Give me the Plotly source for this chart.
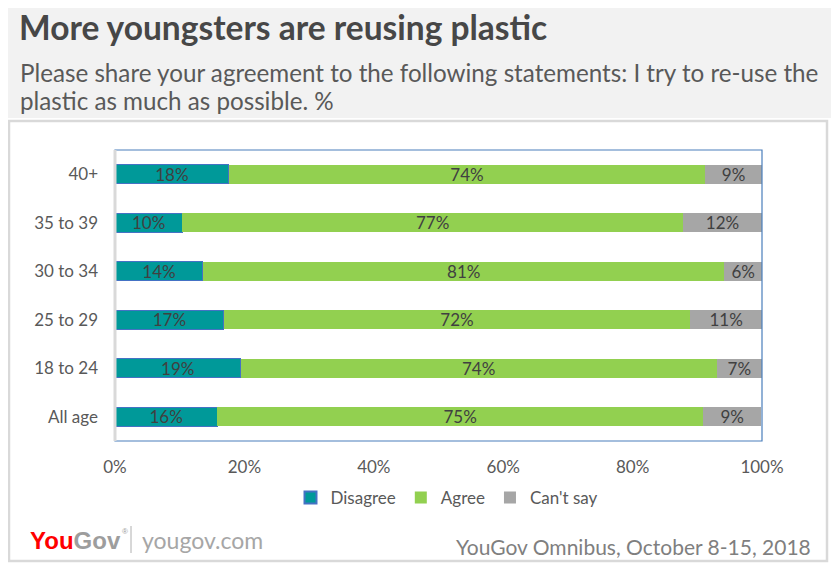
import plotly.graph_objects as go

categories = ["40+", "35 to 39", "30 to 34", "25 to 29", "18 to 24", "All age"]
disagree = [17.6, 10.4, 13.6, 16.8, 19.4, 15.8]
agree = [73.6, 77.4, 80.6, 72.1, 73.6, 75.1]
cant_say = [8.8, 12.2, 5.8, 11.1, 7.0, 9.0]
x_ticks = [0, 20, 40, 60, 80, 100]
x_tick_labels = ["0%", "20%", "40%", "60%", "80%", "100%"]

OFF = 8  # page body margin
W, H = 840, 565
L, R, T, B = 115, 762, 150, 441


def px(x):
    return (x - L) / (R - L)


def py(y):
    return (B - y) / (B - T)


FONT = "Lato"
TXT = "#404040"
SZ = 17

fig = go.Figure()
series = [
    ("Disagree", disagree, "#009999", dict(color="#4472c4", width=1)),
    ("Agree", agree, "#92d050", dict(width=0)),
    ("Can't say", cant_say, "#a6a6a6", dict(width=0)),
]
for name, vals, col, line in series:
    fig.add_trace(go.Bar(
        y=categories, x=vals, name=name, orientation="h",
        marker=dict(color=col, line=line),
        texttemplate="%{x:.0f}%", textposition="inside",
        insidetextanchor="middle", textangle=0, constraintext="none",
        textfont=dict(family=FONT, size=SZ, color=TXT),
        hoverinfo="skip",
    ))

shapes = [
    dict(type="rect", xref="paper", yref="paper", x0=px(OFF), x1=px(831), y0=py(OFF), y1=py(118),
         fillcolor="#f2f2f2", line=dict(width=0), layer="below"),
    dict(type="rect", xref="paper", yref="paper", x0=px(9), x1=px(827), y0=py(121), y1=py(561),
         fillcolor="rgba(0,0,0,0)", line=dict(color="#d9d9d9", width=2.5), layer="below"),
    dict(type="rect", xref="paper", yref="paper", x0=0, x1=1, y0=0, y1=1,
         line=dict(color="#4a7ebb", width=1.2), layer="above"),
    dict(type="line", xref="paper", yref="paper", x0=0, x1=0, y0=0, y1=1,
         line=dict(color="#d9d9d9", width=3), layer="above"),
    dict(type="line", xref="paper", yref="paper", x0=px(131), x1=px(131), y0=py(526), y1=py(553),
         line=dict(color="#b0b0b0", width=1)),
]


def ann(text, x, y, size, color, xanchor="left", family=FONT):
    return dict(text=text, x=px(x), y=py(y), xref="paper", yref="paper",
                xanchor=xanchor, yanchor="middle", showarrow=False,
                font=dict(family=family, size=size, color=color))


annotations = [
    ann("<b>More youngsters are reusing plastic</b>", 17, 27, 33.5, "#474747"),
    ann("Please share your agreement to the following statements: I try to re-use the", 18, 72, 24.2, "#595959"),
    ann("plastic as much as possible. %", 18, 101, 24.2, "#595959"),
    ann("<b><span style='color:#ff0000'>You</span><span style='color:#9d9d9d'>Gov</span></b>",
        28, 540, 24, "#9d9d9d", family="Liberation Sans"),
    ann("®", 120, 531, 8, "#9d9d9d", family="Liberation Sans"),
    ann("yougov.com", 140, 540, 23, "#a6a6a6"),
    ann("YouGov Omnibus, October 8-15, 2018", 813, 546, 21, "#7f7f7f", xanchor="right"),
]

fig.update_layout(
    width=W - OFF, height=H - OFF,
    margin=dict(l=L - OFF, r=W - R, t=T - OFF, b=H - B),
    paper_bgcolor="white", plot_bgcolor="white",
    barmode="stack", bargap=0.61,
    showlegend=True,
    legend=dict(orientation="h", x=px(447), xanchor="center", y=py(498), yanchor="middle",
                font=dict(family=FONT, size=SZ, color="#595959"), traceorder="normal",
                itemwidth=30, itemsizing="constant"),
    xaxis=dict(range=[0, 100], tickvals=x_ticks, ticktext=x_tick_labels, showgrid=False,
               zeroline=False, showline=False, ticks="", ticklabelstandoff=14,
               tickfont=dict(family=FONT, size=SZ, color="#595959"), fixedrange=True),
    yaxis=dict(autorange="reversed", showgrid=False, zeroline=False, showline=False, ticks="",
               ticklabelstandoff=16, tickfont=dict(family=FONT, size=SZ, color="#595959"),
               fixedrange=True),
    shapes=shapes, annotations=annotations,
    font=dict(family=FONT),
)

fig.write_html("out.html")
